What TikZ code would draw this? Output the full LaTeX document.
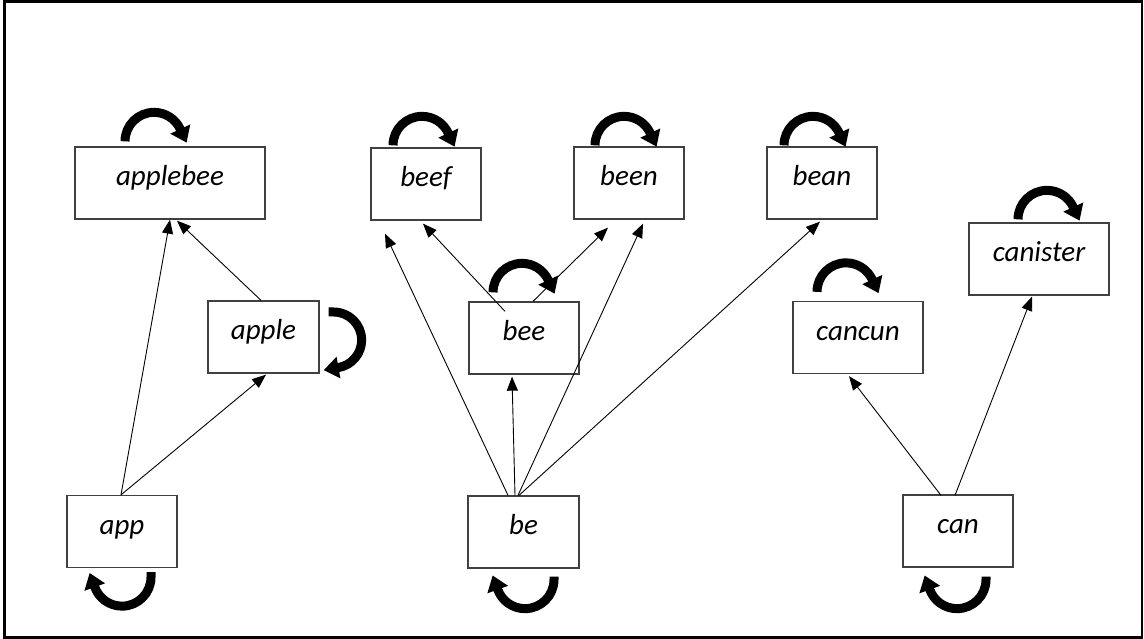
\documentclass[tikz,border=0pt]{standalone}
\usepackage{fontspec}
\setmainfont{Carlito}
\usetikzlibrary{arrows.meta,calc}
\definecolor{boxgray}{HTML}{404040}
\begin{document}
\begin{tikzpicture}[x=1pt,y=-1pt,
  box/.style={draw=boxgray, line width=1.3pt, inner sep=0pt, minimum width=110pt,
    minimum height=72pt, text height=15pt, text depth=10pt,
    font=\fontsize{29}{33}\selectfont\itshape},
  edge/.style={line width=0.9pt, -{Triangle[length=14pt,width=11pt]}},
  selfloop/.style={line width=9pt, -{Triangle[length=15pt,width=21pt]}}
]
\useasboundingbox (0,0) rectangle (1144,639);
\draw[line width=2.5pt] (4.5,1.5) rectangle (1142,637.5);

% nodes
\node[box, minimum width=190pt] (applebee) at (170,183) {applebee};
\node[box, minimum width=111pt] (apple) at (263.5,337) {apple};
\node[box] (app) at (122,531.5) {app};
\node[box] (beef) at (426,184) {beef};
\node[box] (been) at (629,183) {been};
\node[box] (bean) at (822,183) {bean};
\node[box] (bee) at (524,338) {bee};
\node[box, minimum width=111pt] (be) at (523.5,532) {be};
\node[box, minimum width=130pt] (cancun) at (858,337.5) {cancun};
\node[box, minimum width=140pt] (canister) at (1039,259) {canister};
\node[box] (can) at (958,531) {can};

% connectors
\draw[edge] ([xshift=-1pt]app.north) -- (applebee.south);
\draw[edge] ([xshift=-1pt]app.north) -- ($(apple.south)+(2.5,1)$);
\draw[edge] ([xshift=-2.5pt]apple.north) -- ($(applebee.south)+(7,1)$);
\draw[edge] ([xshift=-15.5pt]be.north) -- ($(beef.south)+(-41,13)$);
\draw[edge] ($(bee.north)+(-19,10)$) -- ($(beef.south)+(-3,3)$);
\draw[edge] ([xshift=9pt]bee.north) -- ($(been.south)+(-21,8)$);
\draw[edge] ([xshift=-5.5pt]be.north) -- ($(been.south)+(14,4)$);
\draw[edge] ([xshift=-8.5pt]be.north) -- ($(bee.south)+(-12,2)$);
\draw[edge] ([xshift=-4.5pt]be.north) -- ($(bean.south)+(-2,2)$);
\draw[edge] ($(can.north)+(-17,1)$) -- ($(cancun.south)+(-9,2)$);
\draw[edge] ($(can.north)+(-3,1)$) -- ($(canister.south)+(-7,1)$);

% self loops above
\draw[selfloop] ($(applebee.north)+(-45,-5)$) arc[start angle=180,end angle=335,radius=29] -- ++(6.3,13.6);
\draw[selfloop] ($(beef.north)+(-33,-2)$) arc[start angle=180,end angle=335,radius=29] -- ++(6.3,13.6);
\draw[selfloop] ($(been.north)+(-34,-1)$) arc[start angle=180,end angle=335,radius=29] -- ++(6.3,13.6);
\draw[selfloop] ($(bean.north)+(-38,-1)$) arc[start angle=180,end angle=335,radius=29] -- ++(6.3,13.6);
\draw[selfloop] ($(bee.north)+(-31,-9)$) arc[start angle=180,end angle=335,radius=29] -- ++(6.3,13.6);
\draw[selfloop] ($(cancun.north)+(-41,-9)$) arc[start angle=180,end angle=335,radius=29] -- ++(6.3,13.6);
\draw[selfloop] ($(canister.north)+(-21,-3)$) arc[start angle=180,end angle=335,radius=29] -- ++(6.3,13.6);

% self loop right of apple
\draw[selfloop] ($(apple.east)+(9,-25)$) -- ++(5,0) arc[start angle=-90,end angle=80,radius=28] -- ++(-14.8,2.6);

% self loops below
\draw[selfloop] ($(app.south)+(29,4)$) -- ++(0,5) arc[start angle=0,end angle=160,radius=29] -- ++(-5.1,-14.1);
\draw[selfloop] ($(be.south)+(30.5,8)$) -- ++(0,3) arc[start angle=0,end angle=160,radius=29] -- ++(-5.1,-14.1);
\draw[selfloop] ($(can.south)+(28,9)$) -- ++(0,3) arc[start angle=0,end angle=160,radius=29] -- ++(-5.1,-14.1);
\end{tikzpicture}
\end{document}
